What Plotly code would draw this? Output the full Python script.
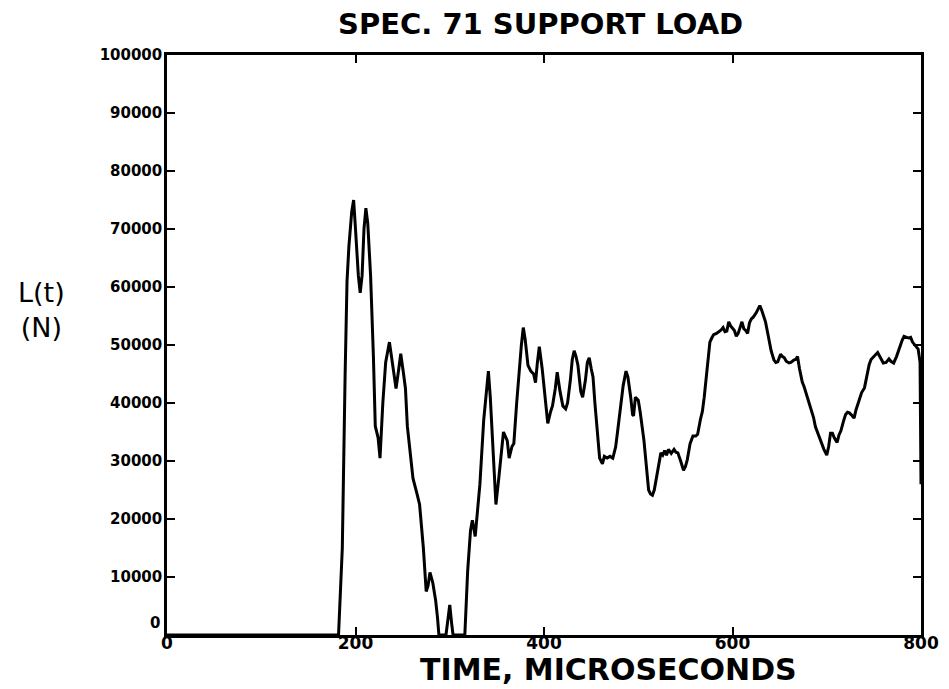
import plotly.graph_objects as go

# Time (microseconds) and support load L(t) (N)
time_us = [0, 182, 186, 187.5, 189, 191, 193, 196, 198, 200, 203, 205, 207, 209, 211, 213, 216, 219, 221, 224,
           226, 229, 232, 236, 240, 243, 246, 248, 251, 253, 255, 258, 261, 265, 268, 272, 275, 277, 279, 282,
           285, 287, 288.5, 296, 298, 300, 302, 303.5, 316, 319, 322, 324, 327, 330, 332, 336, 339, 341, 343,
           345, 347, 349, 352, 354, 357, 361, 363, 366, 368, 371, 373, 376, 378, 380, 383, 386, 389, 391, 393,
           395, 398, 400, 402, 404, 407, 409, 412, 414, 417, 420, 423, 425, 428, 430, 432, 434, 436, 439, 441,
           444, 446, 448, 450, 452, 454, 457, 459, 462, 464, 467, 470, 473, 476, 478, 481, 484, 487, 489, 492,
           494, 495, 497, 500, 502, 506, 509, 511, 513, 515, 517, 519, 522, 524, 526, 528, 530, 532, 535, 538,
           540, 542, 545, 548, 550, 552, 555, 558, 561, 563, 566, 568, 570, 572, 574, 576, 578, 580, 583, 586,
           588, 590, 592, 594, 596, 598, 600, 602, 604, 606, 608, 610, 612, 614, 616, 618, 620, 622, 625, 627,
           629, 631, 633, 635, 638, 641, 644, 646, 648, 650, 651, 653, 655, 657, 660, 662, 665, 667, 669, 671,
           674, 676, 678, 681, 683, 686, 688, 691, 694, 697, 700, 702, 704, 706, 708, 710, 711, 713, 715, 718,
           720, 722, 724, 727, 729, 731, 734, 737, 740, 742, 745, 747, 750, 752, 754, 757, 760, 763, 766, 768,
           771, 774, 777, 780, 782, 785, 787, 789, 791, 794, 797, 799, 800]
load_n = [0, 0, 15000, 32000, 45000, 61000, 67000, 73000, 75000, 70000, 62000, 59000, 62000, 70000, 73600, 71000,
          62000, 48000, 36000, 34000, 30500, 40000, 47000, 50500, 46000, 42500, 46000, 48500, 45000, 42500, 36000,
          32000, 27000, 24500, 22500, 15000, 7500, 8500, 10800, 9000, 6000, 3000, 0, 0, 3000, 5200, 2000, 0, 0,
          11000, 18000, 19800, 17000, 22000, 26000, 37000, 42000, 45500, 41000, 35000, 28000, 22500, 27000, 30500,
          35000, 33500, 30500, 32500, 33000, 40000, 44500, 50000, 53000, 51000, 46500, 45500, 45000, 43500, 47000,
          49700, 46000, 42800, 39000, 36500, 38500, 39500, 42500, 45300, 42000, 39500, 39000, 40000, 44000, 47500,
          49000, 48000, 46500, 42000, 41000, 44000, 47000, 47800, 46000, 44500, 40000, 34800, 30500, 29500, 30800,
          30500, 30800, 30500, 32400, 35000, 39400, 43000, 45500, 44500, 41000, 38000, 37800, 41000, 40500, 38500,
          33600, 28000, 25000, 24300, 24100, 25000, 26700, 29500, 31400, 31000, 31800, 31000, 32000, 31300, 32000,
          31500, 31400, 30000, 28400, 29000, 30200, 33000, 34300, 34300, 34600, 37200, 38500, 41000, 44000, 48000,
          50500, 51200, 51800, 52000, 52300, 52600, 53000, 52300, 52400, 54000, 53300, 52800, 52500, 51500, 52000,
          53000, 54000, 52800, 52500, 52000, 53800, 54500, 54800, 55500, 56200, 56800, 56000, 55000, 54000, 51500,
          49000, 47400, 47000, 47100, 48000, 48400, 48000, 47800, 47200, 46900, 47000, 47400, 47500, 48000, 46000,
          43600, 42800, 41700, 40500, 39300, 37500, 35900, 34500, 33300, 32000, 31000, 32500, 34800, 34800, 34000,
          33500, 33200, 34500, 35200, 37000, 38000, 38400, 38300, 37800, 37400, 38800, 40300, 41800, 42600, 44500,
          46600, 47500, 48000, 48300, 48700, 47800, 46900, 47000, 47600, 47200, 46900, 48000, 49500, 50800, 51500,
          51300, 51200, 51300, 50500, 49900, 49300, 47000, 26000]

x_ticks = [0, 200, 400, 600, 800]
y_ticks = [10000, 20000, 30000, 40000, 50000, 60000, 70000, 80000, 90000, 100000]
y_tick_labels = [str(v) for v in y_ticks]

title_text = "SPEC. 71 SUPPORT LOAD"
x_title = "TIME, MICROSECONDS"
y_title = "L(t)<br>(N)"

FONT = "DejaVu Sans, Verdana, sans-serif"

fig = go.Figure()
fig.add_trace(go.Scatter(x=time_us, y=load_n, mode="lines",
                         line=dict(color="black", width=3), showlegend=False,
                         hoverinfo="skip"))

fig.update_layout(
    width=941, height=681,
    margin=dict(l=159, r=28, t=47, b=54, autoexpand=False),
    paper_bgcolor="white", plot_bgcolor="white",
    title=dict(text=title_text, x=0.566, xanchor="center", y=0.9765, yanchor="middle",
               font=dict(family=FONT, size=29, color="black", weight="bold")),
    showlegend=False,
)
fig.update_xaxes(
    range=[0, 800], tickvals=x_ticks, ticktext=[str(v) for v in x_ticks],
    showline=True, linecolor="black", linewidth=2.5, mirror="ticks",
    ticks="inside", ticklen=8, tickwidth=2, tickcolor="black",
    showgrid=False, zeroline=False, ticklabelstandoff=-9, automargin=False,
    tickfont=dict(family=FONT, size=17, color="black", weight="bold"),
)
fig.update_yaxes(
    range=[0, 100000], tickvals=y_ticks, ticktext=y_tick_labels,
    showline=True, linecolor="black", linewidth=2.5, mirror="ticks",
    ticks="inside", ticklen=8, tickwidth=2, tickcolor="black",
    showgrid=False, zeroline=False, ticklabelstandoff=-1, automargin=False,
    tickfont=dict(family=FONT, size=15, color="black", weight="bold"),
)
# zero label on the y axis sits a little above the axis line
fig.add_annotation(x=0, y=0, xref="paper", yref="y", text="0", showarrow=False,
                   xanchor="right", yanchor="middle", xshift=-5, yshift=12,
                   font=dict(family=FONT, size=15, color="black", weight="bold"))
fig.add_annotation(x=0.585, y=-0.059, xref="paper", yref="paper", text=x_title, showarrow=False,
                   xanchor="center", yanchor="middle",
                   font=dict(family=FONT, size=30, color="black", weight="bold"))
fig.add_annotation(x=-0.166, y=0.56, xref="paper", yref="paper", text=y_title, showarrow=False,
                   xanchor="center", yanchor="middle", align="center",
                   font=dict(family=FONT, size=27, color="black"))

fig.write_html("out.html")
